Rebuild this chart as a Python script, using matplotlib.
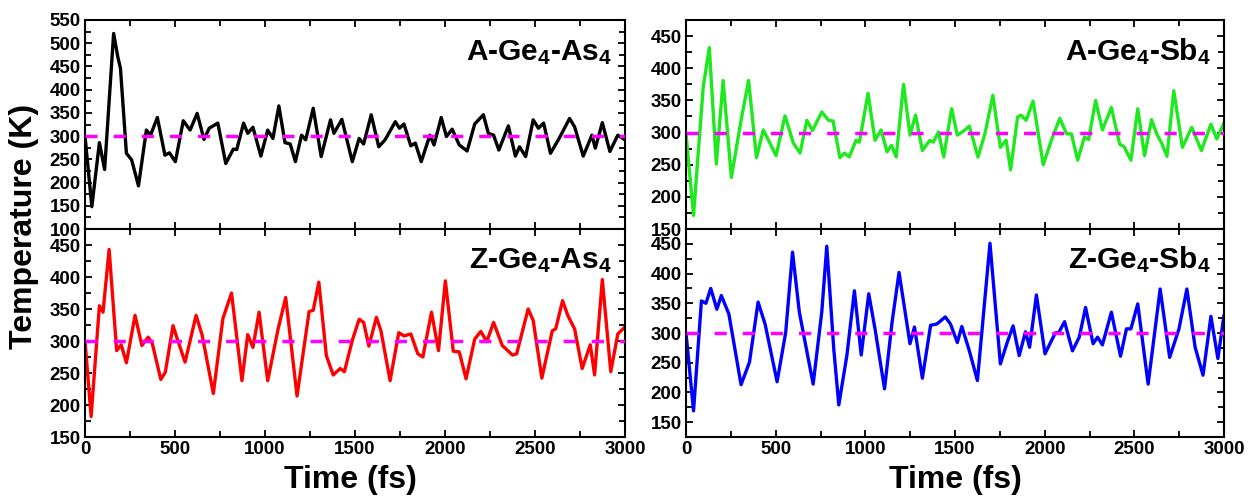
import numpy as np
import matplotlib
matplotlib.use('Agg')
import matplotlib.pyplot as plt
from matplotlib.ticker import MultipleLocator

plt.rcParams['font.family'] = 'Liberation Sans'
plt.rcParams['font.weight'] = 'bold'
plt.rcParams['mathtext.fontset'] = 'custom'
plt.rcParams['mathtext.rm'] = 'Liberation Sans:bold'
plt.rcParams['mathtext.bf'] = 'Liberation Sans:bold'
plt.rcParams['mathtext.it'] = 'Liberation Sans:bold'

# A-Ge4-As4 (black)
t_a_as = [0, 38, 80, 109, 159, 182, 197, 230, 259, 297, 341, 364, 402, 444, 469, 502,
          546, 584, 623, 661, 690, 738, 782, 824, 843, 881, 904, 933, 977, 1015, 1044,
          1077, 1111, 1140, 1169, 1203, 1226, 1268, 1312, 1364, 1383, 1427, 1485, 1523,
          1548, 1590, 1632, 1667, 1724, 1747, 1772, 1810, 1835, 1868, 1916, 1939, 1979,
          2008, 2040, 2079, 2123, 2165, 2213, 2241, 2270, 2299, 2352, 2391, 2414, 2448,
          2490, 2519, 2548, 2586, 2634, 2692, 2720, 2768, 2816, 2835, 2874, 2916, 2960, 3000]
T_a_as = [300, 148, 286, 228, 521, 471, 446, 263, 249, 193, 313, 302, 340, 259, 264, 245,
          333, 313, 349, 293, 317, 328, 241, 272, 271, 328, 306, 319, 257, 313, 295,
          365, 286, 283, 245, 302, 292, 360, 256, 335, 306, 336, 245, 295,
          283, 346, 277, 292, 331, 317, 326, 279, 285, 245, 302, 281, 340,
          299, 315, 281, 268, 326, 346, 306, 302, 270, 322, 257, 277, 256,
          335, 317, 328, 263, 295, 338, 320, 257, 302, 274, 329, 267, 302, 292]

# Z-Ge4-As4 (red)
t_z_as = [0, 34, 80, 100, 134, 176, 201, 230, 278, 316, 351, 374, 421, 446, 489, 513,
          556, 617, 651, 713, 766, 814, 872, 904, 933, 967, 1015, 1073, 1115, 1178, 1245,
          1268, 1299, 1341, 1379, 1418, 1441, 1485, 1523, 1548, 1577, 1619, 1644, 1695,
          1743, 1772, 1810, 1849, 1877, 1925, 1964, 2002, 2046, 2079, 2117, 2165, 2199,
          2232, 2270, 2318, 2375, 2398, 2462, 2490, 2538, 2596, 2615, 2653, 2682, 2720,
          2762, 2807, 2831, 2874, 2921, 2960, 3000]
T_z_as = [300, 182, 355, 345, 443, 285, 294, 266, 340, 293, 306, 296, 240, 251, 324, 303,
          267, 340, 309, 218, 335, 375, 238, 310, 290, 345, 238, 319, 368, 214, 346,
          348, 392, 277, 247, 257, 252, 301, 334, 329, 292, 337, 316, 238,
          313, 308, 311, 280, 275, 345, 285, 394, 284, 283, 241, 303, 315,
          299, 329, 293, 278, 280, 350, 332, 242, 316, 319, 363, 340, 319,
          257, 294, 247, 396, 252, 311, 322]

# A-Ge4-Sb4 (green)
t_a_sb = [0, 42, 96, 130, 169, 207, 253, 307, 349, 393, 431, 469, 502, 552, 598, 636,
          674, 705, 757, 795, 820, 858, 885, 910, 948, 967, 1015, 1054, 1088, 1121, 1146,
          1172, 1213, 1249, 1280, 1318, 1360, 1379, 1408, 1437, 1481, 1513, 1542, 1580,
          1628, 1667, 1711, 1753, 1785, 1810, 1849, 1868, 1897, 1935, 1992, 2040, 2084,
          2123, 2149, 2184, 2222, 2245, 2284, 2322, 2372, 2418, 2443, 2481, 2519, 2557,
          2596, 2625, 2653, 2682, 2720, 2768, 2820, 2874, 2927, 2960, 3000]
T_a_sb = [298, 171, 371, 432, 251, 381, 230, 319, 381, 261, 304, 283, 264, 326, 284, 268,
          319, 303, 332, 319, 318, 261, 268, 262, 288, 285, 361, 288, 304, 270, 280,
          262, 375, 296, 327, 272, 288, 285, 301, 262, 337, 296, 301, 310,
          262, 298, 358, 277, 288, 242, 324, 327, 319, 349, 250, 290, 322,
          298, 298, 257, 293, 289, 350, 304, 339, 282, 278, 257, 337, 264,
          320, 298, 283, 263, 365, 277, 308, 272, 313, 290, 315]

# Z-Ge4-Sb4 (blue)
t_z_sb = [0, 42, 86, 111, 138, 172, 197, 239, 307, 354, 402, 441, 508, 556, 594, 632,
          709, 757, 785, 824, 852, 897, 939, 977, 1019, 1054, 1107, 1149, 1188, 1249, 1274,
          1318, 1364, 1398, 1446, 1475, 1513, 1538, 1580, 1625, 1695, 1753, 1791, 1824,
          1858, 1893, 1916, 1954, 2002, 2059, 2079, 2111, 2155, 2193, 2228, 2270, 2295,
          2322, 2372, 2423, 2456, 2481, 2519, 2577, 2644, 2697, 2749, 2793, 2839, 2883,
          2927, 2966, 3000]
T_z_sb = [300, 169, 354, 350, 375, 340, 363, 332, 213, 251, 352, 315, 218, 301, 436, 335,
          214, 335, 446, 273, 179, 262, 371, 263, 366, 307, 206, 318, 402, 282, 310,
          224, 313, 315, 327, 315, 284, 311, 270, 220, 451, 248, 284, 312,
          262, 302, 276, 364, 265, 300, 301, 319, 270, 293, 343, 282, 293,
          280, 335, 261, 307, 307, 349, 214, 374, 259, 307, 374, 276, 229,
          328, 257, 330]

series = [
    (t_a_as, T_a_as, 'black', r'A-Ge$_4$-As$_4$', (100, 550), np.arange(100, 551, 50)),
    (t_a_sb, T_a_sb, '#1ee81e', r'A-Ge$_4$-Sb$_4$', (150, 475), np.arange(150, 451, 50)),
    (t_z_as, T_z_as, '#ff0000', r'Z-Ge$_4$-As$_4$', (150, 475), np.arange(150, 451, 50)),
    (t_z_sb, T_z_sb, '#0000ff', r'Z-Ge$_4$-Sb$_4$', (125, 475), np.arange(150, 451, 50)),
]

W, H = 1249, 496
fig = plt.figure(figsize=(W / 100, H / 100), dpi=100)
lefts = [85, 686]
widths = [540, 538]
tops = [20, 229]
bottoms = [229, 437]

for i, (t, T, col, name, ylim, yt) in enumerate(series):
    r, c = divmod(i, 2)
    ax = fig.add_axes([lefts[c] / W, 1 - bottoms[r] / H, widths[c] / W,
                       (bottoms[r] - tops[r]) / H])
    ax.plot(t, T, color=col, lw=2.4, zorder=2, solid_joinstyle='round',
            solid_capstyle='round')
    ax.plot([0, 3000], [300, 300], color='#ff00ff', lw=2.5, dashes=(3.5, 4.6), zorder=3)
    ax.set_xlim(0, 3000)
    ax.set_ylim(*ylim)
    ax.set_yticks(yt)
    ax.xaxis.set_major_locator(MultipleLocator(500))
    ax.xaxis.set_minor_locator(MultipleLocator(250))
    ax.yaxis.set_minor_locator(MultipleLocator(25))
    ax.tick_params(which='both', direction='in', top=True, right=True, width=1.3,
                   labelsize=13.5, pad=3)
    ax.tick_params(which='major', length=5)
    ax.tick_params(which='minor', length=4)
    for s in ax.spines.values():
        s.set_linewidth(1.5)
    for lab in ax.get_xticklabels() + ax.get_yticklabels():
        lab.set_fontweight('bold')
    if r == 0:
        ax.set_xticklabels([])
    ax.text(0.976, 0.81, name, transform=ax.transAxes, ha='right', va='baseline',
            fontsize=21.5, fontweight='bold')

fig.text(24 / W, 1 - 226 / H, 'Temperature (K)', rotation=90, ha='center', va='center',
         fontsize=23, fontweight='bold')
fig.text(350 / W, 1 - 480 / H, 'Time (fs)', ha='center', va='center',
         fontsize=23, fontweight='bold')
fig.text(955 / W, 1 - 480 / H, 'Time (fs)', ha='center', va='center',
         fontsize=23, fontweight='bold')

fig.savefig('out.png', dpi=100)
